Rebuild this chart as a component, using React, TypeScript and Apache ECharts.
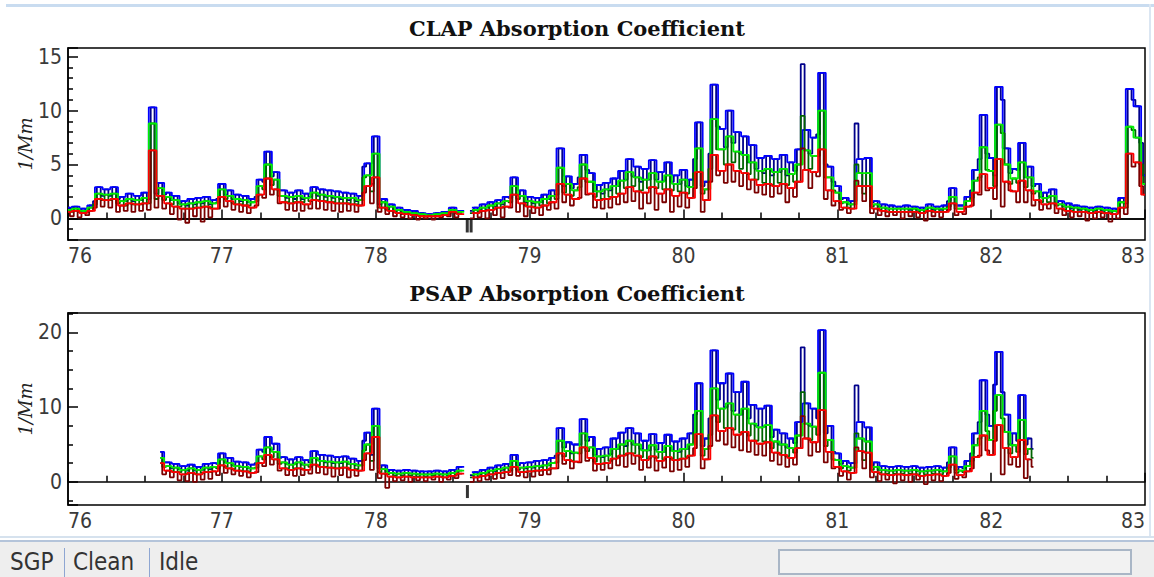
import React, { useEffect, useRef } from "react";
import * as echarts from "echarts";

// ---- sampling grids (day of year) ----
const CLAP_START = 76.0; // PM10 samples
const CLAP_PM1_START = 76.025; // PM1 samples (interleaved between PM10 samples)
const PSAP_START = 76.6;
const PSAP_PM1_START = 76.625;
const STEP = 0.05;

// ---- CLAP (1/Mm), PM10 ----
const clapBlue = [
  1.0, 1.1, 0.9, 1.2, 2.9, 2.7, 2.9, 2.0, 2.3, 2.1, 2.4, 10.3, 3.3, 2.4, 2.1, 1.6, 1.8, 1.9, 2.0, 1.7,
  3.2, 2.6, 2.2, 2.1, 1.8, 3.6, 6.2, 4.3, 2.6, 2.4, 2.6, 2.3, 2.9, 2.7, 2.6, 2.5, 2.4, 2.3, 2.1, 5.1,
  7.6, 1.8, 1.3, 1.0, 0.8, 0.7, 0.5, 0.4, 0.5, 0.6, 1.0, 0.7, null, 1.0, 1.3, 1.5, 1.7, 2.0, 3.8, 2.6,
  2.0, 1.9, 2.2, 2.6, 6.5, 3.9, 3.2, 5.9, 4.2, 3.1, 3.3, 3.7, 4.4, 5.5, 4.8, 4.6, 5.4, 4.3, 5.2, 4.0,
  4.5, 3.6, 8.9, 3.4, 12.4, 8.3, 10.0, 8.0, 7.6, 6.8, 5.6, 5.8, 5.5, 5.9, 5.2, 6.4, 8.2, 7.5, 13.5, 4.8,
  3.0, 1.9, 1.6, 5.5, 5.6, 1.6, 1.3, 1.2, 1.1, 1.2, 1.1, 1.0, 1.3, 1.1, 1.2, 2.8, 1.2, 2.0, 4.5, 9.6,
  5.6, 12.2, 6.5, 4.6, 7.0, 4.8, 3.2, 2.4, 2.7, 1.6, 1.4, 1.2, 1.1, 1.0, 1.1, 1.0, 0.9, 1.9, 12.0, 10.4,
  4.0,
];
const clapGreen = [
  0.8, 0.9, 0.7, 1.0, 2.3, 2.2, 2.3, 1.6, 1.8, 1.7, 1.9, 8.8, 2.8, 2.0, 1.7, 1.3, 1.4, 1.5, 1.6, 1.4,
  2.7, 2.1, 1.8, 1.7, 1.5, 3.0, 5.0, 3.6, 2.1, 2.0, 2.1, 1.9, 2.4, 2.2, 2.1, 2.0, 1.9, 1.9, 1.7, 4.0,
  6.0, 1.5, 1.1, 0.8, 0.6, 0.5, 0.4, 0.3, 0.4, 0.5, 0.8, 0.6, null, 0.8, 1.0, 1.2, 1.4, 1.6, 3.0, 2.1,
  1.6, 1.5, 1.8, 2.1, 4.7, 3.2, 2.6, 5.0, 3.4, 2.5, 2.7, 3.0, 3.5, 4.3, 3.8, 3.6, 4.2, 3.4, 4.0, 3.2,
  3.6, 2.9, 6.5, 2.7, 9.2, 6.4, 7.6, 6.2, 5.9, 5.2, 4.4, 4.6, 4.3, 4.6, 4.1, 5.0, 6.3, 5.8, 10.0, 3.8,
  2.4, 1.5, 1.3, 4.2, 4.2, 1.3, 1.0, 0.9, 0.9, 0.9, 0.9, 0.8, 1.0, 0.9, 0.9, 2.0, 0.9, 1.6, 3.5, 6.6,
  4.4, 8.7, 5.0, 3.7, 5.2, 3.8, 2.5, 1.9, 2.1, 1.3, 1.1, 1.0, 0.9, 0.8, 0.9, 0.8, 0.7, 1.5, 8.5, 7.5,
  3.2,
];
const clapRed = [
  0.6, 0.7, 0.5, 0.7, 1.8, 1.7, 1.8, 1.2, 1.4, 1.3, 1.4, 6.3, 2.1, 1.4, 1.1, 0.9, 0.9, 1.0, 1.1, 0.9,
  2.0, 1.6, 1.3, 1.2, 1.0, 2.2, 3.7, 2.7, 1.5, 1.4, 1.5, 1.3, 1.7, 1.6, 1.5, 1.4, 1.4, 1.3, 1.2, 3.0,
  3.8, 1.0, 0.7, 0.5, 0.4, 0.3, 0.2, 0.2, 0.2, 0.3, 0.6, 0.4, null, 0.5, 0.7, 0.8, 1.0, 1.1, 2.2, 1.4,
  1.1, 1.0, 1.2, 1.5, 3.2, 2.2, 1.8, 3.7, 2.3, 1.7, 1.8, 2.0, 2.3, 2.9, 2.5, 2.4, 2.9, 2.3, 2.7, 2.1,
  2.4, 1.9, 4.3, 1.7, 5.9, 4.4, 5.0, 4.4, 4.2, 3.6, 3.1, 3.2, 3.0, 3.2, 2.8, 3.4, 4.5, 4.3, 6.4, 2.6,
  1.6, 1.0, 0.9, 3.0, 3.0, 0.9, 0.7, 0.6, 0.6, 0.6, 0.6, 0.5, 0.7, 0.6, 0.6, 1.4, 0.6, 1.1, 2.4, 4.1,
  2.8, 5.5, 3.4, 2.5, 3.5, 2.6, 1.7, 1.3, 1.4, 0.9, 0.7, 0.6, 0.6, 0.5, 0.6, 0.5, 0.4, 1.0, 6.0, 5.2,
  2.2,
];
// ---- CLAP (1/Mm), PM1 ----
const clapNavy = [
  0.7, 0.8, 0.7, 1.6, 2.1, 2.1, 1.8, 1.6, 1.6, 1.7, 1.8, 2.3, 2.2, 1.7, 1.4, 1.2, 1.3, 1.4, 1.3, 1.8,
  2.2, 1.8, 1.6, 1.5, 2.0, 3.4, 3.9, 2.6, 1.9, 1.8, 1.8, 2.0, 2.1, 2.0, 1.9, 1.8, 1.7, 1.6, 4.8, 3.2,
  1.3, 1.0, 0.8, 0.6, 0.5, 0.4, 0.3, 0.3, 0.4, 0.6, 0.6, null, 0.7, 0.8, 1.0, 1.1, 1.3, 1.9, 2.2, 1.5,
  1.4, 1.5, 1.8, 2.2, 3.0, 2.8, 3.8, 4.5, 2.5, 2.3, 2.6, 3.0, 3.6, 3.9, 3.4, 3.6, 3.6, 3.5, 3.4, 3.2,
  3.0, 5.5, 3.0, 6.0, 8.5, 6.6, 7.0, 6.0, 5.2, 4.6, 4.2, 4.0, 4.3, 4.0, 4.4, 14.3, 6.0, 7.8, 5.0, 3.4,
  1.8, 1.3, 8.8, 3.0, 1.5, 1.1, 0.9, 0.9, 0.9, 0.8, 0.8, 0.8, 0.8, 0.8, 1.6, 1.2, 1.2, 2.6, 5.5, 6.0,
  4.0, 11.0, 4.2, 4.5, 3.8, 3.0, 2.0, 2.0, 1.5, 1.1, 0.9, 0.8, 0.8, 0.7, 0.7, 0.7, 0.8, 1.4, 11.0, 7.0,
];
const clapDarkGreen = [
  0.6, 0.6, 0.6, 1.3, 1.7, 1.7, 1.4, 1.2, 1.3, 1.3, 1.4, 1.8, 1.7, 1.3, 1.1, 0.9, 1.0, 1.1, 1.0, 1.5,
  1.8, 1.4, 1.3, 1.2, 1.6, 2.7, 3.1, 2.1, 1.5, 1.5, 1.5, 1.6, 1.7, 1.6, 1.5, 1.4, 1.4, 1.3, 3.8, 2.5,
  1.0, 0.8, 0.6, 0.4, 0.4, 0.3, 0.2, 0.2, 0.3, 0.4, 0.5, null, 0.5, 0.6, 0.8, 0.9, 1.0, 1.5, 1.8, 1.2,
  1.1, 1.2, 1.4, 1.8, 2.4, 2.1, 2.9, 3.4, 2.0, 1.8, 2.0, 2.3, 2.8, 3.0, 2.6, 2.8, 2.8, 2.7, 2.6, 2.5,
  2.3, 4.2, 2.3, 4.6, 6.4, 5.0, 5.2, 4.6, 4.1, 3.6, 3.3, 3.1, 3.3, 3.1, 3.4, 9.5, 4.6, 5.8, 3.8, 2.6,
  1.4, 1.0, 5.0, 2.3, 1.1, 0.8, 0.6, 0.6, 0.6, 0.6, 0.6, 0.6, 0.6, 0.6, 1.1, 0.9, 0.9, 1.9, 3.8, 4.5,
  3.0, 7.9, 3.2, 3.3, 2.9, 2.3, 1.5, 1.5, 1.2, 0.8, 0.7, 0.6, 0.6, 0.5, 0.5, 0.5, 0.6, 1.0, 8.2, 5.0,
];
const clapDarkRed = [
  0.2, 0.1, 0.3, 1.0, 1.1, 1.0, 0.6, 0.7, 0.6, 0.7, 0.8, 1.0, 0.9, 0.4, -0.1, -0.4, 0.2, -0.3, 0.1, 0.9,
  1.1, 0.8, 0.6, 0.5, 1.2, 1.9, 2.2, 1.4, 0.8, 0.7, 0.7, 0.9, 0.9, 0.8, 0.7, 0.6, 0.7, 0.6, 2.4, 1.4,
  0.6, 0.4, 0.2, 0.1, 0.0, -0.1, 0.0, -0.1, 0.1, 0.2, 0.1, null, 0.0, 0.1, 0.0, 0.3, 0.1, 1.0, 0.6, 0.2,
  0.5, 0.3, 0.8, 0.9, 1.5, 1.2, 1.9, 2.2, 1.0, 0.9, 1.0, 1.3, 1.5, 1.6, 0.9, 1.4, 0.8, 1.5, 0.6, 1.1,
  1.0, 2.8, 0.6, 3.4, 4.0, 3.3, 3.4, 3.0, 2.7, 2.4, 2.2, 2.0, 2.3, 1.5, 2.0, 6.5, 2.8, 3.9, 1.8, 1.2,
  0.8, 0.5, 3.5, 1.6, 0.5, 0.3, 0.2, 0.3, 0.0, 0.2, 0.1, -0.2, 0.2, 0.1, 0.8, 0.3, 0.4, 1.2, 2.2, 2.6,
  1.8, 1.1, 2.6, 1.5, 1.5, 1.2, 0.8, 0.9, 0.5, 0.3, 0.1, 0.2, -0.2, 0.0, 0.1, -0.3, 0.0, 0.4, 4.8, 3.0,
];

// ---- PSAP (1/Mm), PM10 ----
const psapBlue = [
  4.0, 2.6, 2.4, 2.1, 2.3, 2.0, 2.4, 2.5,
  3.8, 3.2, 2.7, 2.6, 2.3, 4.3, 6.0, 5.1, 3.3, 3.0, 3.3, 2.9, 4.1, 3.6, 3.5, 3.3, 3.4, 3.1, 2.8, 6.6,
  9.8, 2.2, 1.6, 1.5, 1.6, 1.5, 1.4, 1.4, 1.5, 1.4, 1.6, 2.0, null, 1.3, 1.6, 1.9, 2.2, 2.4, 3.6, 2.5,
  2.6, 2.8, 2.9, 3.2, 7.2, 5.3, 5.0, 8.4, 6.0, 4.4, 4.6, 5.8, 6.6, 7.2, 6.5, 5.5, 6.4, 5.2, 6.3, 5.4,
  5.8, 6.5, 13.2, 5.8, 17.6, 13.2, 14.5, 12.0, 13.4, 10.3, 9.8, 10.2, 7.0, 6.5, 5.8, 8.0, 10.5, 9.8, 20.3, 7.5,
  3.8, 2.8, 2.5, 8.0, 7.3, 2.6, 2.1, 2.0, 2.1, 2.0, 2.1, 1.9, 2.0, 2.1, 1.9, 4.6, 2.0, 2.8, 6.5, 13.6,
  7.5, 17.4, 9.0, 6.5, 11.6, 5.8,
];
const psapGreen = [
  3.2, 2.1, 1.9, 1.6, 1.8, 1.6, 1.9, 2.0,
  3.0, 2.5, 2.1, 2.0, 1.8, 3.4, 4.6, 4.0, 2.6, 2.3, 2.6, 2.3, 3.2, 2.8, 2.7, 2.6, 2.7, 2.4, 2.2, 5.0,
  7.5, 1.7, 1.2, 1.1, 1.2, 1.1, 1.0, 1.0, 1.1, 1.0, 1.2, 1.5, null, 1.0, 1.2, 1.5, 1.7, 1.9, 2.8, 1.9,
  2.0, 2.1, 2.2, 2.5, 5.5, 4.1, 3.9, 6.5, 4.6, 3.4, 3.5, 4.4, 5.0, 5.5, 5.0, 4.2, 4.9, 4.0, 4.8, 4.1,
  4.4, 5.0, 9.5, 4.4, 12.5, 9.8, 10.5, 9.0, 9.8, 7.8, 7.3, 7.6, 5.4, 5.0, 4.5, 6.2, 7.8, 7.4, 14.6, 5.6,
  2.9, 2.1, 1.9, 5.8, 5.4, 2.0, 1.6, 1.5, 1.6, 1.5, 1.6, 1.4, 1.5, 1.6, 1.4, 3.4, 1.5, 2.1, 4.9, 9.5,
  5.6, 11.6, 6.7, 4.9, 8.3, 4.4,
];
const psapRed = [
  2.5, 1.5, 1.3, 1.0, 1.2, 1.0, 1.3, 1.4,
  2.2, 1.8, 1.5, 1.4, 1.2, 2.5, 3.6, 3.0, 1.8, 1.6, 1.8, 1.6, 2.3, 2.0, 1.9, 1.8, 1.9, 1.6, 1.5, 3.8,
  6.0, 1.1, 0.7, 0.6, 0.7, 0.6, 0.6, 0.6, 0.7, 0.6, 0.8, 1.1, null, 0.6, 0.8, 1.0, 1.2, 1.3, 2.0, 1.3,
  1.4, 1.5, 1.6, 1.8, 3.8, 2.9, 2.7, 4.6, 3.2, 2.4, 2.5, 3.1, 3.5, 3.8, 3.5, 2.9, 3.4, 2.8, 3.3, 2.9,
  3.1, 3.5, 6.4, 3.0, 8.9, 6.8, 7.2, 6.3, 6.7, 5.5, 5.1, 5.3, 3.9, 3.6, 3.2, 4.5, 5.8, 5.3, 9.6, 4.0,
  2.0, 1.4, 1.2, 4.1, 3.9, 1.3, 1.0, 0.9, 1.0, 0.9, 1.0, 0.8, 0.9, 1.0, 0.8, 2.3, 0.9, 1.4, 3.3, 6.2,
  3.6, 7.6, 4.5, 3.3, 5.6, 3.0,
];
// ---- PSAP (1/Mm), PM1 ----
const psapNavy = [
  2.6, 1.8, 1.7, 1.5, 1.5, 1.6, 1.7, 2.4,
  2.6, 2.2, 2.0, 1.8, 2.5, 4.0, 4.3, 3.2, 2.4, 2.4, 2.3, 2.6, 2.9, 2.6, 2.5, 2.5, 2.4, 2.2, 5.5, 3.6,
  1.8, 1.4, 1.1, 1.1, 1.1, 1.0, 1.0, 1.1, 1.0, 1.1, 1.3, null, 0.9, 1.0, 1.2, 1.4, 1.6, 2.0, 2.2, 1.8,
  1.9, 2.0, 2.2, 3.5, 4.6, 3.8, 5.0, 5.5, 3.6, 3.3, 3.7, 4.4, 4.8, 5.0, 4.4, 4.2, 4.3, 4.0, 4.2, 4.0,
  4.4, 9.0, 4.8, 8.5, 11.0, 10.0, 9.5, 9.0, 8.5, 7.5, 7.4, 6.0, 5.0, 4.6, 5.2, 18.0, 7.5, 8.5, 6.5, 4.0,
  2.4, 2.0, 12.9, 4.0, 2.2, 1.6, 1.5, 1.5, 1.5, 1.5, 1.4, 1.4, 1.5, 1.4, 2.6, 1.6, 1.8, 3.8, 8.0, 9.0,
  13.0, 12.0, 5.0, 5.5, 5.0, 4.4,
];
const psapDarkGreen = [
  2.0, 1.4, 1.3, 1.1, 1.1, 1.2, 1.3, 1.8,
  2.0, 1.7, 1.5, 1.4, 1.9, 3.0, 3.3, 2.4, 1.8, 1.8, 1.7, 2.0, 2.2, 2.0, 1.9, 1.9, 1.8, 1.7, 4.2, 2.8,
  1.3, 1.0, 0.8, 0.8, 0.8, 0.7, 0.7, 0.8, 0.7, 0.8, 1.0, null, 0.6, 0.7, 0.9, 1.0, 1.2, 1.5, 1.6, 1.3,
  1.4, 1.5, 1.6, 2.6, 3.4, 2.8, 3.8, 4.1, 2.7, 2.4, 2.8, 3.3, 3.6, 3.8, 3.3, 3.1, 3.2, 3.0, 3.1, 3.0,
  3.3, 6.6, 3.5, 6.3, 8.0, 7.2, 7.0, 6.6, 6.2, 5.5, 5.4, 4.5, 3.8, 3.4, 3.9, 12.0, 5.6, 6.3, 4.8, 3.0,
  1.8, 1.5, 6.5, 2.9, 1.6, 1.2, 1.1, 1.1, 1.1, 1.1, 1.0, 1.0, 1.1, 1.0, 1.9, 1.2, 1.3, 2.8, 5.8, 6.8,
  9.5, 8.5, 3.8, 4.0, 3.7, 3.2,
];
const psapDarkRed = [
  1.0, 0.6, 0.2, 0.1, 0.0, 0.3, 0.4, 0.9,
  1.2, 1.0, 0.8, 0.6, 1.3, 2.1, 2.3, 1.5, 0.9, 0.8, 0.9, 1.1, 1.2, 1.0, 0.7, 0.9, 0.6, 0.8, 2.9, 1.6,
  0.5, -0.8, 0.1, 0.2, 0.0, 0.2, 0.1, 0.3, 0.0, 0.3, 0.5, null, 0.0, 0.1, 0.3, 0.4, 0.5, 0.9, 0.8, 0.6,
  0.7, 0.9, 1.0, 1.8, 2.4, 1.8, 2.6, 2.8, 1.5, 1.6, 1.8, 2.2, 2.0, 2.4, 1.6, 1.9, 1.5, 1.9, 1.4, 1.6,
  2.0, 4.5, 1.8, 4.8, 5.5, 5.0, 4.6, 4.2, 4.0, 3.6, 3.5, 2.8, 2.3, 2.0, 2.3, 8.8, 3.5, 4.0, 2.6, 1.8,
  0.8, 0.3, 4.6, 1.8, 0.6, 0.1, 0.3, -0.2, 0.2, 0.0, 0.3, -0.3, 0.2, 0.1, 1.2, 0.4, 0.6, 1.8, 3.5, 4.2,
  5.5, 1.0, 2.3, 2.0, 0.5, 2.0,
];

// event markers below the zero line
const clapMarkTimes = [78.595, 78.62];
const clapMarkValues = [-0.7, -0.7];
const psapMarkTimes = [78.596];
const psapMarkValues = [-1.3];

const COLORS = {
  blue: "#0000ff",
  navy: "#00008b",
  green: "#00f000",
  darkGreen: "#006400",
  red: "#ff0000",
  darkRed: "#7a0000",
};

function toPairs(t0: number, dt: number, vals: (number | null)[]) {
  return vals.map((v, i) => [Math.round((t0 + i * dt) * 1000) / 1000, v === null ? "-" : v]);
}
// PM10 and PM1 samples alternate in time: one continuous record through both
function merged(a: any[], b: any[]) {
  return [...a, ...b].sort((p, q) => p[0] - q[0]);
}

const TICK_FONT = "'Liberation Sans Narrow','DejaVu Sans Condensed',sans-serif";

function lineSeries(name: string, gridIdx: number, color: string, data: any[], z: number, width = 1.8) {
  return {
    name,
    type: "line",
    xAxisIndex: gridIdx,
    yAxisIndex: gridIdx,
    data,
    step: "middle",
    showSymbol: false,
    symbol: "none",
    connectNulls: false,
    lineStyle: { color, width },
    itemStyle: { color },
    z,
    silent: true,
  };
}

function panelSeries(
  prefix: string,
  g: number,
  t10: number,
  t1: number,
  b10: any[], b1: any[], g10: any[], g1: any[], r10: any[], r1: any[]
) {
  const B10 = toPairs(t10, STEP, b10);
  const B1 = toPairs(t1, STEP, b1);
  const G10 = toPairs(t10, STEP, g10);
  const G1 = toPairs(t1, STEP, g1);
  const R10 = toPairs(t10, STEP, r10);
  const R1 = toPairs(t1, STEP, r1);
  return [
    lineSeries(prefix + " 450nm PM1", g, COLORS.navy, merged(B10, B1), 2),
    lineSeries(prefix + " 450nm PM10", g, COLORS.blue, B10, 3),
    lineSeries(prefix + " 550nm PM1", g, COLORS.darkGreen, merged(G10, G1), 4),
    lineSeries(prefix + " 550nm PM10", g, COLORS.green, G10, 5),
    lineSeries(prefix + " 700nm PM1", g, COLORS.darkRed, merged(R10, R1), 6),
    lineSeries(prefix + " 700nm PM10", g, COLORS.red, R10, 7),
  ];
}

export default function App() {
  const ref = useRef<HTMLDivElement>(null);

  useEffect(() => {
    if (!ref.current) return;
    const chart = echarts.init(ref.current, null, { renderer: "svg" });

    const axisLine = { show: true, lineStyle: { color: "#000", width: 1.5 } };
    const xAxis = [0, 1].map((i) => ({
      type: "value",
      gridIndex: i,
      min: 76,
      max: 83,
      interval: 1,
      axisLine,
      axisTick: { show: true, inside: true, length: 9, lineStyle: { color: "#000", width: 1.5 } },
      minorTick: { show: true, splitNumber: 4, length: 6, lineStyle: { color: "#000", width: 1.5 } },
      splitLine: { show: false },
      axisLabel: {
        margin: 5,
        fontSize: 21,
        fontFamily: TICK_FONT,
        color: "#3a3a3a",
        alignMinLabel: "left",
        alignMaxLabel: "right",
      },
    }));

    const yCommon = (min: number, max: number, step: number, minorSplit: number) => ({
      type: "value",
      min,
      max,
      minInterval: step,
      maxInterval: step,
      name: "1/Mm",
      nameLocation: "middle",
      nameRotate: 90,
      nameGap: 34,
      nameMoveOverlap: false,
      nameTextStyle: { fontFamily: "DejaVu Serif", fontStyle: "italic", fontSize: 18, color: "#222" },
      axisLine,
      axisTick: { show: true, inside: true, length: 10, lineStyle: { color: "#000", width: 1.5 } },
      minorTick: { show: true, splitNumber: minorSplit, length: 5, lineStyle: { color: "#000", width: 1.5 } },
      splitLine: { show: false },
      axisLabel: {
        margin: 6,
        fontSize: 21,
        fontFamily: TICK_FONT,
        color: "#3a3a3a",
        showMinLabel: false,
        showMaxLabel: false,
      },
    });

    const yAxis = [
      { ...yCommon(-2, 15.8, 5, 5), gridIndex: 0 },
      { ...yCommon(-3.1, 22.6, 10, 4), gridIndex: 1 },
    ];

    const clapSeries = panelSeries("CLAP", 0, CLAP_START, CLAP_PM1_START,
      clapBlue, clapNavy, clapGreen, clapDarkGreen, clapRed, clapDarkRed);
    (clapSeries[0] as any).markLine = {
      silent: true,
      symbol: ["none", "none"],
      label: { show: false },
      lineStyle: { color: "#000", width: 1.5, type: "solid" },
      data: [{ yAxis: 0 }],
    };

    const psapSeries = panelSeries("PSAP", 1, PSAP_START, PSAP_PM1_START,
      psapBlue, psapNavy, psapGreen, psapDarkGreen, psapRed, psapDarkRed);

    const markers = [
      {
        type: "scatter",
        xAxisIndex: 0,
        yAxisIndex: 0,
        symbol: "rect",
        symbolSize: [3, 13],
        itemStyle: { color: "#000" },
        data: clapMarkTimes.map((t, i) => [t, clapMarkValues[i]]),
        z: 10,
        silent: true,
      },
      {
        type: "scatter",
        xAxisIndex: 1,
        yAxisIndex: 1,
        symbol: "rect",
        symbolSize: [3, 13],
        itemStyle: { color: "#000" },
        data: psapMarkTimes.map((t, i) => [t, psapMarkValues[i]]),
        z: 10,
        silent: true,
      },
    ];

    const titleStyle = { fontFamily: "DejaVu Serif", fontWeight: "bold", fontSize: 21, color: "#111" };

    chart.setOption({
      animation: false,
      backgroundColor: "#ffffff",
      title: [
        { text: "CLAP Absorption Coefficient", left: "center", top: 13, textStyle: titleStyle },
        { text: "PSAP Absorption Coefficient", left: "center", top: 278, textStyle: titleStyle },
      ],
      grid: [
        { left: 68, top: 48, width: 1077, height: 192, show: true, borderColor: "#000", borderWidth: 1.5, backgroundColor: "transparent" },
        { left: 68, top: 313, width: 1077, height: 192, show: true, borderColor: "#000", borderWidth: 1.5, backgroundColor: "transparent" },
      ],
      xAxis,
      yAxis,
      series: [...clapSeries, ...psapSeries, ...markers],
    });

    return () => chart.dispose();
  }, []);

  const statusFont: React.CSSProperties = {
    position: "absolute",
    top: 548,
    fontFamily: TICK_FONT,
    fontSize: 24,
    color: "#333",
    lineHeight: "29px",
  };
  const sep: React.CSSProperties = {
    position: "absolute",
    top: 548,
    width: 1,
    height: 29,
    background: "#8ea6d2",
  };

  return (
    <div style={{ position: "fixed", left: 0, top: 0, width: 1154, height: 577, background: "#fff", overflow: "hidden" }}>
      <div ref={ref} style={{ position: "absolute", left: 0, top: 0, width: 1154, height: 537 }} />
      {/* window frame lines */}
      <div style={{ position: "absolute", left: 6, top: 4, width: 1148, height: 3, background: "#c9dcf0" }} />
      <div style={{ position: "absolute", left: 1149, top: 4, width: 2, height: 534, background: "#dbe6f2" }} />
      <div style={{ position: "absolute", left: 0, top: 536, width: 1154, height: 2, background: "#d6e2ee" }} />
      {/* status bar */}
      <div style={{ position: "absolute", left: 0, top: 540, width: 1154, height: 37, background: "#eeeeee", borderTop: "2px solid #b4c4da" }} />
      <span style={{ ...statusFont, left: 10 }}>SGP</span>
      <div style={{ ...sep, left: 64 }} />
      <span style={{ ...statusFont, left: 73 }}>Clean</span>
      <div style={{ ...sep, left: 149 }} />
      <span style={{ ...statusFont, left: 159 }}>Idle</span>
      <div
        style={{
          position: "absolute",
          left: 778,
          top: 549,
          width: 350,
          height: 22,
          background: "#f2f2f2",
          border: "2px solid #a9b6c6",
        }}
      />
    </div>
  );
}
